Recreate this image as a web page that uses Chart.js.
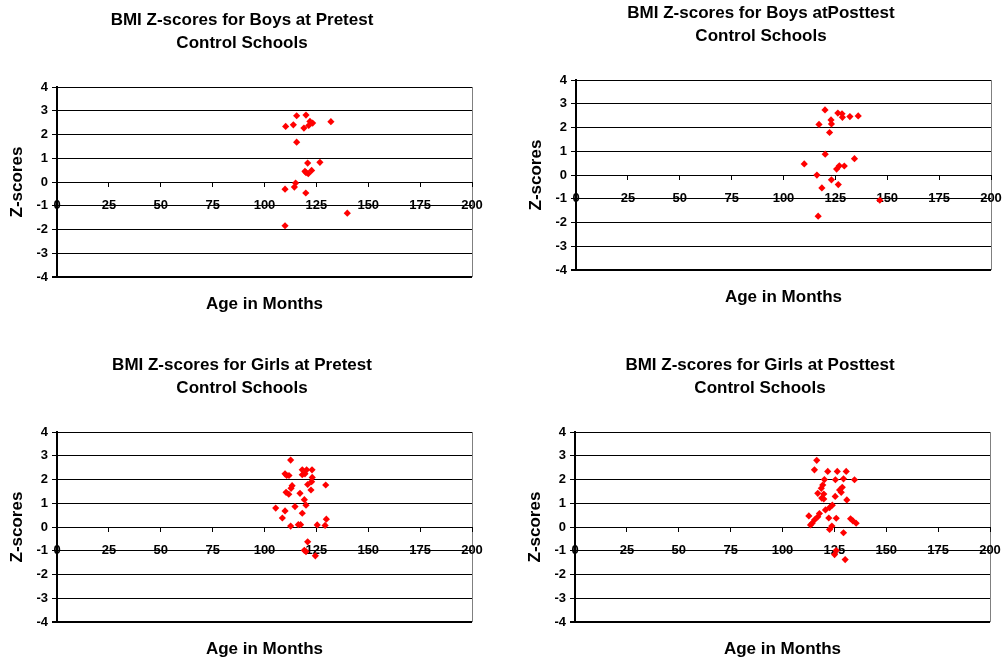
<!DOCTYPE html>
<html>
<head>
<meta charset="utf-8">
<script src="https://cdn.jsdelivr.net/npm/chart.js@4.4.1/dist/chart.umd.min.js"></script>
<style>
  html, body { margin: 0; padding: 0; background: #ffffff; }
  #wrap { position: relative; width: 1005px; height: 660px; overflow: hidden; background: #ffffff; }
  #wrap canvas { position: absolute; }
</style>
</head>
<body>
<div id="wrap">
  <canvas id="boysPre" width="486" height="315" style="left:0px;top:0px"></canvas>
  <canvas id="boysPost" width="486" height="315" style="left:519px;top:-7px"></canvas>
  <canvas id="girlsPre" width="486" height="315" style="left:0px;top:345px"></canvas>
  <canvas id="girlsPost" width="486" height="315" style="left:518px;top:345px"></canvas>
</div>
<script>
// tick values
const xTicks = [0, 25, 50, 75, 100, 125, 150, 175, 200];
const yTicks = [-4, -3, -2, -1, 0, 1, 2, 3, 4];

// Boys, pretest
const boysPreAge = [115.5, 120.0, 110.2, 113.9, 119.0, 121.9, 123.2, 121.3, 132.0, 115.5, 120.8,
    126.7, 119.5, 122.7, 121.1, 120.0, 115.0, 114.4, 109.9, 119.9, 139.9, 109.9];
const boysPreZ = [2.79, 2.82, 2.34, 2.41, 2.27, 2.55, 2.48, 2.38, 2.54, 1.68, 0.80,
    0.83, 0.45, 0.49, 0.35, 0.40, -0.04, -0.21, -0.30, -0.46, -1.31, -1.84];

// Boys, posttest
const boysPostAge = [120.0, 126.2, 128.2, 128.4, 132.0, 136.0, 122.9, 123.1, 117.1, 122.2, 120.1,
    110.0, 134.2, 126.9, 129.3, 125.6, 116.1, 123.1, 126.4, 118.5, 146.4, 116.7];
const boysPostZ = [2.74, 2.61, 2.58, 2.43, 2.46, 2.49, 2.32, 2.15, 2.13, 1.79, 0.88,
    0.47, 0.69, 0.39, 0.38, 0.25, 0.00, -0.20, -0.40, -0.54, -1.06, -1.73];

// Girls, pretest
const girlsPreAge = [112.6, 109.9, 110.7, 111.8, 118.2, 120.3, 122.9, 118.2, 119.5, 123.0, 122.7, 120.8,
    129.5, 113.3, 112.8, 122.4, 110.4, 111.7, 117.1, 119.2, 120.0, 114.7, 105.4, 109.9,
    118.2, 108.6, 129.8, 112.6, 116.3, 117.4, 125.4, 129.2, 120.8, 119.2, 120.0, 124.5];
const girlsPreZ = [2.82, 2.24, 2.17, 2.17, 2.41, 2.41, 2.41, 2.20, 2.24, 2.09, 1.91, 1.79,
    1.77, 1.74, 1.63, 1.56, 1.46, 1.38, 1.42, 1.15, 0.92, 0.86, 0.80, 0.68,
    0.58, 0.38, 0.33, 0.04, 0.10, 0.10, 0.09, 0.07, -0.62, -0.98, -1.03, -1.21];

// Girls, posttest
const girlsPostAge = [116.5, 115.4, 121.8, 126.4, 130.7, 120.2, 125.5, 129.4, 134.7, 119.4, 118.7, 128.8,
    127.5, 128.3, 117.0, 119.9, 118.9, 125.4, 131.0, 119.9, 124.0, 122.7, 120.7, 117.8,
    112.7, 117.0, 115.4, 114.3, 113.5, 122.3, 125.9, 132.8, 133.9, 135.5, 123.8, 122.7,
    129.4, 125.9, 125.1, 130.2];
const girlsPostZ = [2.81, 2.41, 2.34, 2.34, 2.34, 2.00, 1.99, 2.03, 1.99, 1.77, 1.63, 1.67,
    1.56, 1.46, 1.42, 1.39, 1.22, 1.29, 1.14, 1.18, 0.92, 0.82, 0.72, 0.57,
    0.47, 0.43, 0.30, 0.16, 0.09, 0.38, 0.37, 0.35, 0.26, 0.16, 0.04, -0.10,
    -0.24, -0.99, -1.16, -1.37];

const FONT = "Arial, 'Liberation Sans', Helvetica, sans-serif";

function makePanel(canvasId, titleLines, ages, zs) {
    const ctx = document.getElementById(canvasId);
    const points = ages.map((a, i) => ({ x: a, y: zs[i] }));

    return new Chart(ctx, {
        type: 'scatter',
        data: {
            datasets: [{
                data: points,
                pointStyle: 'rectRot',
                pointRadius: 3.6,
                pointBorderWidth: 0,
                backgroundColor: '#ff0000',
                borderColor: '#ff0000'
            }]
        },
        options: {
            responsive: false,
            animation: false,
            devicePixelRatio: 1,
            // left padding moves the chart title centre right; y axis is narrowed to match
            layout: { padding: { left: 12, right: 14, top: 0, bottom: 0 } },
            plugins: {
                legend: { display: false },
                tooltip: { enabled: false },
                title: {
                    display: true,
                    text: titleLines,
                    color: '#000000',
                    font: { family: FONT, size: 17, weight: 'bold', lineHeight: '23px' },
                    padding: { top: 9, bottom: 32 }
                },
                subtitle: {
                    display: true,
                    position: 'bottom',
                    fullSize: false,
                    text: 'Age in Months',
                    color: '#000000',
                    font: { family: FONT, size: 17, weight: 'bold', lineHeight: 1.2 },
                    padding: { top: 17.5, bottom: 0 }
                }
            },
            scales: {
                x: {
                    type: 'linear',
                    position: { y: 0 },
                    min: 0,
                    max: 200,
                    afterBuildTicks: s => { s.ticks = xTicks.map(v => ({ value: v })); },
                    // the axis sits inside the plot, so its end labels should not shrink it
                    afterFit: s => { s.paddingLeft = 0; s.paddingRight = 0; },
                    ticks: {
                        color: '#000000',
                        font: { family: FONT, size: 13, weight: 'bold' },
                        padding: 12,
                        maxRotation: 0,
                        autoSkip: false
                    },
                    grid: {
                        drawOnChartArea: true,
                        color: c => (c.tick && c.tick.value === 200) ? '#808080' : 'rgba(0,0,0,0)',
                        tickColor: '#000000',
                        tickLength: 4,
                        lineWidth: 1
                    },
                    border: { display: true, color: '#000000', width: 1 }
                },
                y: {
                    type: 'linear',
                    position: 'left',
                    min: -4,
                    max: 4,
                    afterBuildTicks: s => { s.ticks = yTicks.map(v => ({ value: v })); },
                    afterFit: s => { s.width = 45; },
                    title: {
                        display: true,
                        text: 'Z-scores',
                        color: '#000000',
                        font: { family: FONT, size: 17, weight: 'bold' },
                        padding: { top: -4.5, bottom: 0 }
                    },
                    ticks: {
                        color: '#000000',
                        font: { family: FONT, size: 13, weight: 'bold' },
                        padding: 4
                    },
                    grid: {
                        color: '#000000',
                        tickColor: '#000000',
                        tickLength: 5,
                        lineWidth: c => (c.tick && c.tick.value === -4) ? 2 : 1
                    },
                    border: { display: true, color: '#000000', width: 2 }
                }
            }
        }
    });
}

makePanel('boysPre', ['BMI Z-scores for Boys at Pretest', 'Control Schools'], boysPreAge, boysPreZ);
makePanel('boysPost', ['BMI Z-scores for Boys atPosttest', 'Control Schools'], boysPostAge, boysPostZ);
makePanel('girlsPre', ['BMI Z-scores for Girls at Pretest', 'Control Schools'], girlsPreAge, girlsPreZ);
makePanel('girlsPost', ['BMI Z-scores for Girls at Posttest', 'Control Schools'], girlsPostAge, girlsPostZ);
</script>
</body>
</html>
